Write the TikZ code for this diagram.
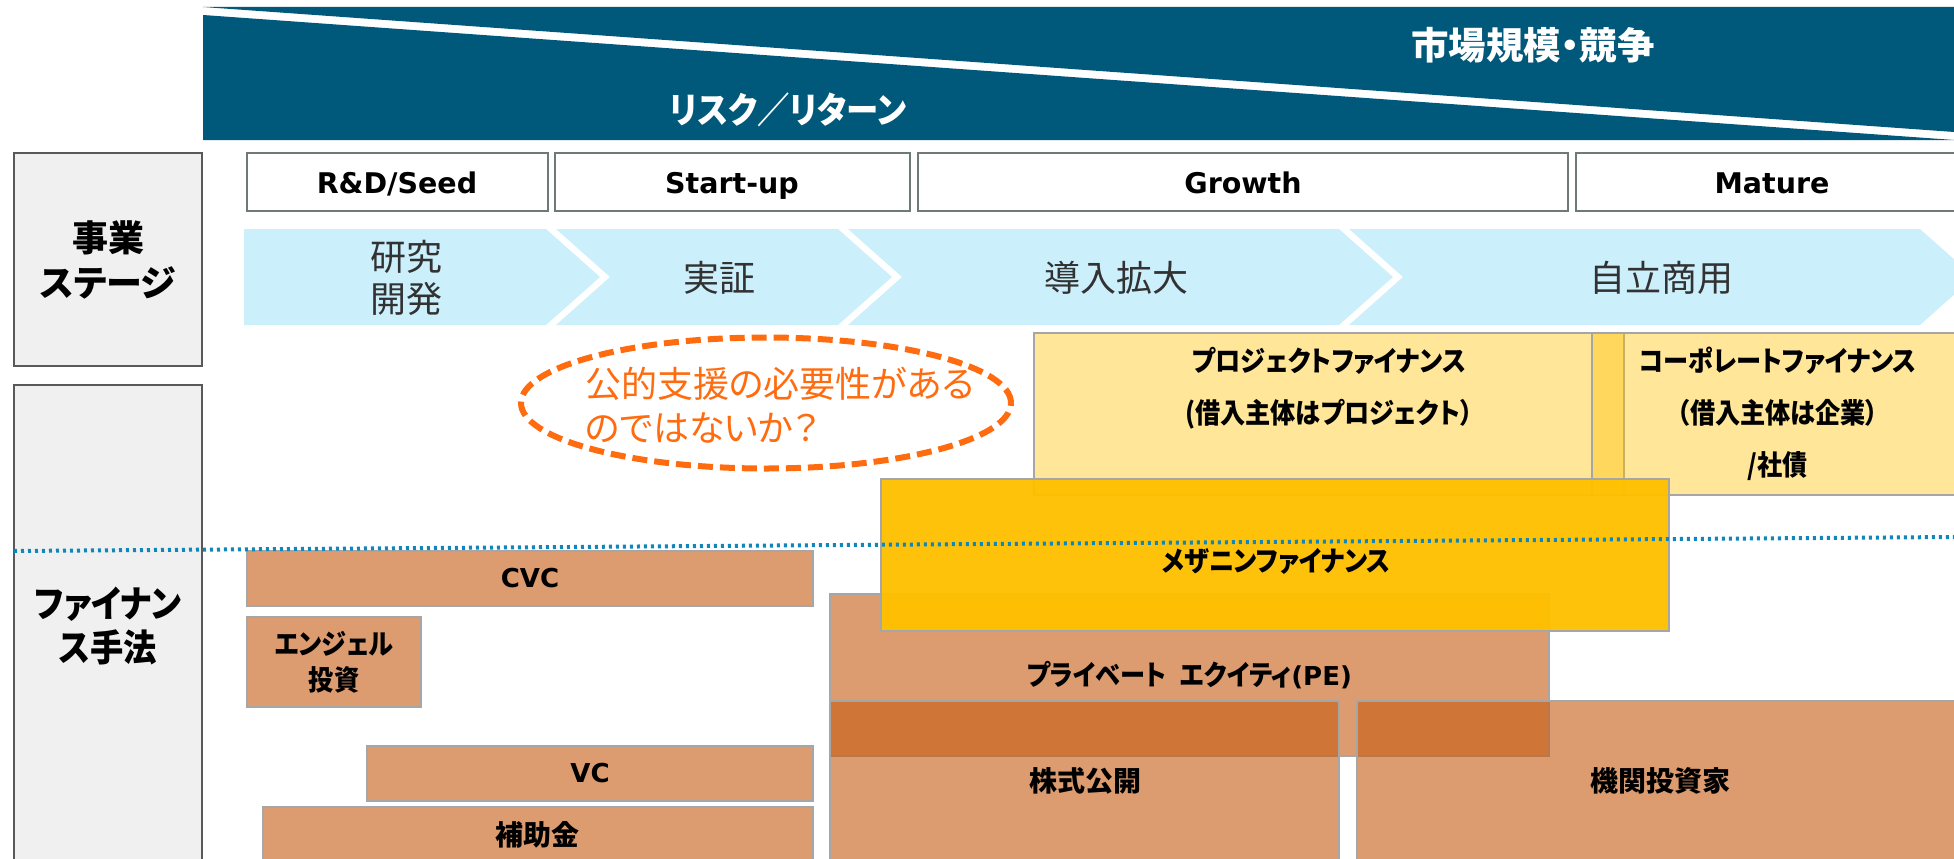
\documentclass[tikz,border=0pt]{standalone}
\usepackage{fontspec}
\setmainfont{Noto Sans CJK JP}[RawFeature=+palt]
\newfontfamily\jpn{Noto Sans CJK JP}[RawFeature=+palt, FakeStretch=0.9]
\newfontfamily\lat{DejaVu Sans}
\usetikzlibrary{shapes.geometric}
\definecolor{bandc}{RGB}{0,88,122}
\definecolor{chevc}{RGB}{204,239,252}
\definecolor{orng}{RGB}{255,108,16}
\definecolor{dotblue}{RGB}{16,134,186}
\definecolor{tanc}{RGB}{197,90,17}
\definecolor{goldc}{RGB}{255,192,0}
\definecolor{lgray}{RGB}{240,240,240}
\definecolor{stgborder}{RGB}{110,122,116}
\definecolor{chevtext}{RGB}{50,50,50}
\tikzset{
  x=1pt, y=-1pt,
  sidebox/.style={draw=black!65, line width=1.5pt, fill=lgray, anchor=north west, inner sep=0pt, outer sep=0pt},
  sidetxt/.style={font=\bfseries\fontsize{36}{45}\selectfont, align=center, inner sep=0pt},
  hdr/.style={font=\bfseries\fontsize{35}{40}\selectfont, text=white, inner sep=0pt},
  stagebox/.style={draw=stgborder, line width=1.8pt, fill=white, anchor=north west, inner sep=0pt, outer sep=0pt, minimum height=58pt},
  stagetxt/.style={font=\lat\bfseries\fontsize{28.5}{32}\selectfont, inner sep=0pt, text height=21pt, text depth=0pt},
  chevshape/.style={fill=chevc},
  chevtxt/.style={font=\fontsize{36}{42}\selectfont, text=chevtext, align=center, inner sep=0pt},
  orgtxt/.style={font=\fontsize{36}{44}\selectfont, text=orng, align=left, inner sep=0pt},
  tanbox/.style={draw=black!35, line width=1.5pt, fill=tanc, fill opacity=0.6, text opacity=1, anchor=north west, inner sep=0pt, outer sep=0pt, font=\jpn\bfseries\fontsize{28}{36}\selectfont, align=center},
  latbox/.style={font=\lat\bfseries\fontsize{26}{30}\selectfont},
  lightbox/.style={draw=black!35, line width=1.5pt, fill=goldc, fill opacity=0.4, anchor=north west, inner sep=0pt, outer sep=0pt},
  mezzbox/.style={draw=black!35, line width=1.5pt, fill=goldc, fill opacity=0.96, anchor=north west, inner sep=0pt, outer sep=0pt},
  boxtxt/.style={font=\bfseries\fontsize{28}{52}\selectfont, align=center, inner sep=0pt},
  kanatxt/.style={font=\jpn\bfseries\fontsize{28}{52}\selectfont, align=center, inner sep=0pt},
  dotline/.style={draw=dotblue, line width=4pt, dash pattern=on 3pt off 4pt},
}
\begin{document}
\begin{tikzpicture}
\useasboundingbox (0,0) rectangle (1954,859);
\clip (0,0) rectangle (1954,859);
% header band
\fill[bandc] (203,7) -- (1960,7) -- (1960,132.4) -- cycle;
\fill[bandc] (203,15) -- (1960,140.4) -- (1960,140) -- (203,140) -- cycle;
\node[hdr, font=\bfseries\fontsize{37.5}{40}\selectfont] (mkt) at (1533,45) {市場規模・競争};
\node[hdr, font=\jpn\bfseries\fontsize{36}{40}\selectfont] (risk) at (788,110) {リスク／リターン};
% side boxes
\node[sidebox, minimum width=188pt, minimum height=213pt] (stg) at (14,153) {};
\node[sidetxt] (stgt) at (108,260) {事業\\ステージ};
\node[sidebox, minimum width=188pt, minimum height=490pt] (fin) at (14,385) {};
\node[sidetxt, font=\jpn\bfseries\fontsize{37}{44}\selectfont] (fint) at (108,626) {ファイナン\\ス手法};
% stage boxes
\node[stagebox, minimum width=301pt] (s1) at (247,153) {};
\node[stagebox, minimum width=355pt] (s2) at (555,153) {};
\node[stagebox, minimum width=650pt] (s3) at (918,153) {};
\node[stagebox, minimum width=394pt] (s4) at (1576,153) {};
\node[stagetxt] (s1t) at (397,183) {R\&D/Seed};
\node[stagetxt] (s2t) at (732,183) {Start-up};
\node[stagetxt] (s3t) at (1243,183) {Growth};
\node[stagetxt] (s4t) at (1772,183) {Mature};
% chevrons
\fill[chevshape] (244,229) -- (546,229) -- (600,277) -- (546,325) -- (244,325) -- cycle;
\fill[chevshape] (556,229) -- (838,229) -- (892,277) -- (838,325) -- (556,325) -- (610,277) -- cycle;
\fill[chevshape] (848,229) -- (1339,229) -- (1393,277) -- (1339,325) -- (848,325) -- (902,277) -- cycle;
\fill[chevshape] (1349,229) -- (1920,229) -- (1974,277) -- (1920,325) -- (1349,325) -- (1403,277) -- cycle;
\node[chevtxt] (c1) at (406,278) {研究\\開発};
\node[chevtxt] (c2) at (719,278) {実証};
\node[chevtxt] (c3) at (1116,278) {導入拡大};
\node[chevtxt] (c4) at (1661,278) {自立商用};
% oval
\node[ellipse, draw=orng, line width=6pt, dash pattern=on 15pt off 7pt, minimum width=490pt, minimum height=131pt, inner sep=0pt] (oval) at (766,403) {};
\node[orgtxt, anchor=west] (ovalt) at (585,405) {公的支援の必要性がある\\のではないか？};
% tan boxes
\node[tanbox, latbox, minimum width=566pt, minimum height=55pt] (cvc) at (247,551) {CVC};
\node[tanbox, minimum width=174pt, minimum height=90pt] (angel) at (247,617) {エンジェル\\投資};
\node[tanbox, latbox, minimum width=446pt, minimum height=55pt] (vc) at (367,746) {VC};
\node[tanbox, minimum width=550pt, minimum height=100pt] (hojo) at (263,807) {};
\node[tanbox, minimum width=719pt, minimum height=162pt] (pe) at (830,594) {プライベート\hspace{14pt}エクイティ{\lat\bfseries\fontsize{26}{30}\selectfont (PE)}};
\node[tanbox, minimum width=509pt, minimum height=200pt] (kabu) at (830,701) {};
\node[tanbox, minimum width=640pt, minimum height=200pt] (kikan) at (1357,701) {};
\node[boxtxt] (hojot) at (537,835) {補助金};
\node[boxtxt] (kabut) at (1085,781) {株式公開};
\node[boxtxt] (kikant) at (1660,781) {機関投資家};
% yellow boxes
\node[lightbox, minimum width=590pt, minimum height=162pt] (pf) at (1034,333) {};
\node[lightbox, minimum width=400pt, minimum height=162pt] (corp) at (1592,333) {};
\node[mezzbox, minimum width=788pt, minimum height=152pt] (mezz) at (881,479) {};
\node[kanatxt] (pft) at (1329,388) {プロジェクトファイナンス\\(借入主体はプロジェクト）};
\node[kanatxt] (corpt) at (1778,414) {コーポレートファイナンス\\（借入主体は企業）\\/社債};
\node[kanatxt] (mezzt) at (1276,561) {メザニンファイナンス};
% dotted line
\coordinate (dl1) at (14,551);
\coordinate (dl2) at (1954,537);
\draw[dotline] (dl1) -- (dl2);
\end{tikzpicture}
\end{document}
